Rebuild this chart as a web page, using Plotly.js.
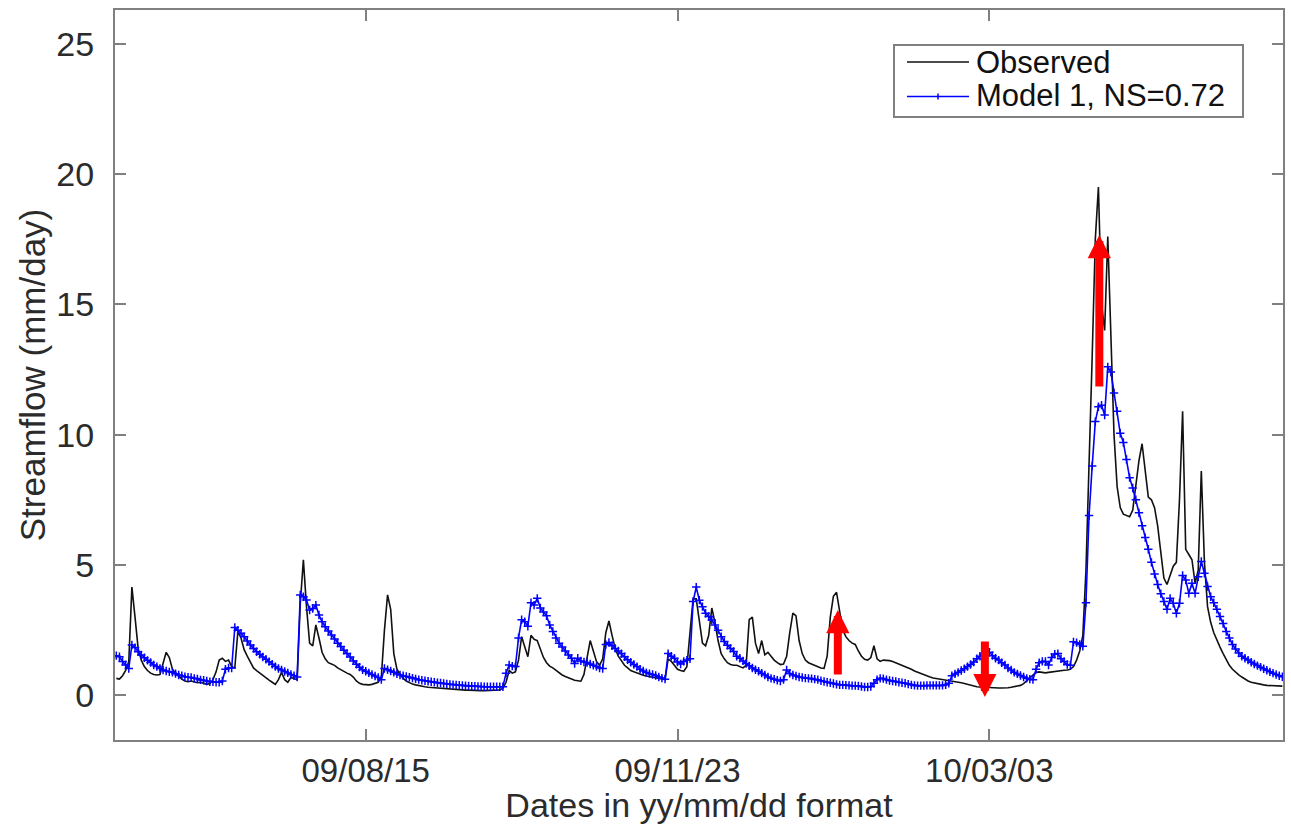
<!DOCTYPE html>
<html>
<head>
<meta charset="utf-8">
<script src="https://cdn.plot.ly/plotly-3.0.1.min.js"></script>
<style>
html,body{margin:0;padding:0;background:#ffffff;}
#chart{width:1291px;height:824px;}
</style>
</head>
<body>
<div id="chart"></div>
<script>
// ---------------- data (daily streamflow, mm/day) ----------------
const startDate = '2009-05-27';

const observed = [
0.65,0.62,0.75,0.95,1.3,4.15,3.0,1.8,1.35,1.1,
0.95,0.85,0.8,0.78,0.8,1.2,1.65,1.45,1.0,0.85,
0.72,0.62,0.55,0.52,0.55,0.5,0.48,0.5,0.45,0.42,
0.45,0.6,0.9,1.35,1.42,1.3,1.35,1.1,1.05,2.45,
2.2,1.75,1.5,1.25,1.05,0.95,0.85,0.75,0.65,0.58,
0.5,0.42,0.6,0.88,0.6,0.5,0.68,0.65,0.6,3.5,
5.2,3.4,2.0,1.9,2.7,2.2,1.65,1.4,1.25,1.2,
1.15,1.05,0.98,0.9,0.85,0.8,0.7,0.55,0.46,0.42,
0.4,0.4,0.42,0.45,0.5,0.7,2.5,3.85,3.3,1.6,
1.0,0.8,0.65,0.55,0.48,0.43,0.4,0.37,0.35,0.33,
0.31,0.3,0.28,0.27,0.26,0.25,0.24,0.23,0.22,0.22,
0.21,0.21,0.2,0.2,0.19,0.19,0.19,0.18,0.18,0.18,
0.18,0.18,0.18,0.2,0.27,0.5,0.95,0.85,0.9,1.35,
2.25,1.85,1.48,2.3,2.15,2.1,1.75,1.45,1.25,1.12,
1.05,0.95,0.85,0.78,0.72,0.67,0.62,0.58,0.56,0.54,
0.8,1.5,2.1,1.7,1.3,1.15,1.4,2.4,2.85,2.3,
1.8,1.5,1.3,1.15,1.05,0.95,0.9,0.85,0.8,0.77,
0.74,0.72,0.7,0.68,0.65,0.62,0.6,1.4,1.3,1.15,
1.0,0.95,0.92,1.1,2.5,3.7,3.7,2.8,2.0,1.9,
2.3,3.35,2.8,2.1,1.6,1.4,1.25,1.18,1.15,1.15,
1.1,1.05,1.15,2.9,3.0,2.0,1.6,2.1,1.55,1.65,
1.5,1.35,1.25,1.18,1.2,1.5,2.4,3.15,3.05,2.1,
1.6,1.35,1.25,1.2,1.15,1.1,1.05,1.03,1.5,3.0,
3.8,3.95,3.2,2.5,2.25,2.1,2.0,1.95,1.7,1.5,
1.38,1.35,1.45,1.9,1.4,1.3,1.35,1.35,1.33,1.3,
1.25,1.2,1.15,1.12,1.05,1.0,0.93,0.88,0.83,0.8,
0.75,0.7,0.66,0.64,0.63,0.62,0.6,0.58,0.56,0.54,
0.52,0.48,0.45,0.42,0.38,0.35,0.33,0.32,0.31,0.3,
0.29,0.28,0.28,0.28,0.28,0.28,0.29,0.31,0.33,0.35,
0.38,0.45,0.55,0.65,0.78,0.88,0.9,0.88,0.86,0.88,
0.9,0.92,0.93,0.95,0.96,0.97,1.0,1.1,1.35,1.7,
2.3,4.8,8.5,13.0,17.5,19.5,15.0,14.0,17.6,13.5,
10.0,8.0,7.2,6.95,6.9,6.85,7.1,8.0,9.0,9.65,
8.5,7.6,7.5,7.2,6.5,5.4,4.5,4.25,4.6,4.95,
5.1,7.5,10.9,5.6,5.4,5.2,4.3,4.8,8.6,5.1,
3.4,2.8,2.4,2.1,1.85,1.6,1.35,1.15,1.0,0.88,
0.78,0.7,0.62,0.55,0.5,0.47,0.44,0.42,0.4,0.38,
0.37,0.36,0.36,0.35,0.35
];

const model1 = [
1.52,1.48,1.3,1.16,1.03,1.93,1.83,1.67,1.55,1.44,
1.34,1.26,1.16,1.1,1.03,0.97,0.93,0.9,0.88,0.83,
0.78,0.75,0.71,0.69,0.68,0.65,0.63,0.59,0.58,0.55,
0.52,0.52,0.5,0.5,0.55,1.0,1.05,1.05,2.6,2.5,
2.38,2.25,2.08,1.93,1.8,1.67,1.57,1.47,1.38,1.29,
1.19,1.1,1.03,0.97,0.91,0.86,0.8,0.75,0.7,3.85,
3.78,3.66,3.27,3.33,3.46,3.08,2.82,2.63,2.47,2.31,
2.16,2.0,1.87,1.73,1.6,1.47,1.32,1.19,1.08,0.98,
0.92,0.86,0.8,0.74,0.68,0.6,1.03,0.98,0.93,0.88,
0.82,0.78,0.75,0.72,0.69,0.66,0.63,0.6,0.58,0.56,
0.54,0.52,0.5,0.48,0.47,0.45,0.44,0.42,0.41,0.4,
0.39,0.38,0.37,0.36,0.35,0.35,0.34,0.34,0.33,0.33,
0.33,0.33,0.33,0.33,0.33,0.85,1.16,1.12,1.1,2.2,
2.9,2.82,2.65,3.55,3.46,3.72,3.35,3.2,3.05,2.7,
2.45,2.2,2.0,1.85,1.7,1.55,1.42,1.22,1.42,1.32,
1.28,1.26,1.2,1.15,1.1,1.05,1.03,1.95,2.03,1.9,
1.8,1.7,1.6,1.48,1.36,1.27,1.18,1.1,1.0,0.93,
0.87,0.83,0.8,0.76,0.7,0.66,0.62,1.6,1.5,1.42,
1.28,1.2,1.3,1.35,1.4,3.6,4.15,3.65,3.4,3.15,
3.02,2.89,2.7,2.5,2.25,2.06,1.92,1.8,1.68,1.5,
1.42,1.32,1.22,1.13,1.05,0.98,0.92,0.85,0.78,0.7,
0.65,0.62,0.58,0.55,0.6,0.97,0.84,0.78,0.74,0.7,
0.68,0.66,0.65,0.64,0.62,0.6,0.56,0.53,0.5,0.48,
0.45,0.42,0.4,0.4,0.39,0.38,0.37,0.37,0.36,0.34,
0.32,0.32,0.34,0.46,0.6,0.65,0.64,0.6,0.57,0.55,
0.53,0.5,0.48,0.46,0.43,0.4,0.38,0.37,0.37,0.37,
0.38,0.38,0.38,0.38,0.38,0.38,0.4,0.46,0.75,0.82,
0.88,0.95,1.02,1.1,1.18,1.28,1.4,1.5,1.58,1.78,
1.65,1.52,1.42,1.35,1.25,1.16,1.05,0.97,0.88,0.82,
0.76,0.7,0.65,0.62,0.6,1.0,1.25,1.3,1.3,1.16,
1.45,1.58,1.6,1.4,1.3,1.18,1.15,2.05,2.02,1.95,
1.88,3.55,6.9,8.8,10.5,11.07,11.13,10.75,12.6,12.4,
11.6,10.9,10.05,9.7,9.05,8.35,7.95,7.5,7.0,6.5,
6.05,5.6,5.1,4.65,4.25,3.9,3.6,3.3,3.72,3.53,
3.15,3.53,4.6,4.42,3.91,4.3,3.91,4.55,5.13,4.68,
4.17,3.78,3.55,3.3,3.02,2.75,2.45,2.2,1.95,1.78,
1.62,1.5,1.42,1.35,1.27,1.2,1.14,1.08,1.02,0.96,
0.9,0.85,0.8,0.75,0.71
];

const seriesNames = ['Observed', 'Model 1, NS=0.72'];
const tickDates  = ['2009-08-15', '2009-11-23', '2010-03-03'];
const tickLabels = ['09/08/15', '09/11/23', '10/03/03'];
const yTickVals  = [0, 5, 10, 15, 20, 25];

// annotation arrows: date, tail value, head value
const arrowDates = ['2010-01-13 10:00', '2010-03-01 14:00', '2010-04-07 07:00'];
const arrowFrom  = [0.74, 2.12, 11.79];
const arrowTo    = [3.27, -0.07, 17.66];

// ---------------- build ----------------
const DAY = 86400000;
const t0 = Date.parse(startDate + 'T00:00:00Z');
function iso(ms){ return new Date(ms).toISOString().slice(0,19).replace('T',' '); }
const dates = observed.map((_, i) => iso(t0 + i * DAY));

const FONT = '"Liberation Sans", Arial, Helvetica, sans-serif';
const TXT = '#2b2b2b';
const AX = '#808080';

const traces = [
  {
    x: dates, y: observed, type: 'scatter', mode: 'lines', name: seriesNames[0],
    line: {color: '#111111', width: 1.6}, showlegend: false, hoverinfo: 'x+y'
  },
  {
    x: dates, y: model1, type: 'scatter', mode: 'lines+markers', name: seriesNames[1],
    line: {color: '#0000ff', width: 1.6},
    marker: {symbol: 'cross-thin', size: 6, color: '#0000ff', line: {color: '#0000ff', width: 1.5}},
    showlegend: false
  }
];

// plot area in pixels (for placing the hand-made legend)
const L = 115, R = 8, T = 10, B = 84, FW = 1291, FH = 824;
const PW = FW - L - R, PH = FH - T - B;
const px = x => (x - L) / PW;
const py = y => (FH - B - y) / PH;

const shapes = [
  {type: 'rect', xref: 'paper', yref: 'paper', x0: px(894), x1: px(1243), y0: py(117), y1: py(45),
   line: {color: AX, width: 2}, fillcolor: '#ffffff', layer: 'above'},
  {type: 'line', xref: 'paper', yref: 'paper', x0: px(907), x1: px(969), y0: py(62), y1: py(62),
   line: {color: '#111111', width: 1.6}, layer: 'above'},
  {type: 'line', xref: 'paper', yref: 'paper', x0: px(907), x1: px(969), y0: py(96.5), y1: py(96.5),
   line: {color: '#0000ff', width: 1.6}, layer: 'above'},
  {type: 'line', xref: 'paper', yref: 'paper', x0: px(938), x1: px(938), y0: py(99.5), y1: py(93.5),
   line: {color: '#0000ff', width: 1.5}, layer: 'above'}
];

const annotations = [
  {xref: 'paper', yref: 'paper', x: px(974), y: py(62), xanchor: 'left', yanchor: 'middle',
   text: seriesNames[0], showarrow: false, font: {family: FONT, size: 31, color: '#111111'}},
  {xref: 'paper', yref: 'paper', x: px(974), y: py(96), xanchor: 'left', yanchor: 'middle',
   text: seriesNames[1], showarrow: false, font: {family: FONT, size: 31, color: '#111111'}}
];
arrowDates.forEach((d, i) => {
  annotations.push({
    x: d, y: arrowTo[i], xref: 'x', yref: 'y',
    ax: d, ay: arrowFrom[i], axref: 'x', ayref: 'y',
    text: '', showarrow: true, arrowhead: 2, arrowsize: 0.58, arrowwidth: 8,
    arrowcolor: '#ff0000', standoff: 0, startstandoff: 0
  });
});

const layout = {
  width: FW, height: FH,
  margin: {l: L, r: R, t: T, b: B, pad: 0},
  paper_bgcolor: '#ffffff', plot_bgcolor: '#ffffff',
  font: {family: FONT, color: TXT, size: 33},
  showlegend: false,
  xaxis: {
    type: 'date',
    range: [iso(t0 - 0.42 * DAY), iso(t0 + 374.2 * DAY)],
    tickmode: 'array', tickvals: tickDates, ticktext: tickLabels,
    ticks: 'inside', ticklen: 11, tickwidth: 2, tickcolor: AX,
    showline: true, linecolor: AX, linewidth: 2, mirror: 'ticks',
    showgrid: false, zeroline: false,
    tickfont: {family: FONT, size: 33, color: TXT},
    ticklabelstandoff: 0,
    title: {text: 'Dates in yy/mm/dd format', font: {family: FONT, size: 34, color: TXT}, standoff: 10},
    automargin: false
  },
  yaxis: {
    range: [-1.715, 26.29],
    tickmode: 'array', tickvals: yTickVals,
    ticks: 'inside', ticklen: 11, tickwidth: 2, tickcolor: AX,
    showline: true, linecolor: AX, linewidth: 2, mirror: 'ticks',
    showgrid: false, zeroline: false,
    tickfont: {family: FONT, size: 34, color: TXT},
    ticklabelstandoff: 12,
    title: {text: 'Streamflow (mm/day)', font: {family: FONT, size: 35, color: TXT}, standoff: 0},
    automargin: false
  },
  shapes: shapes,
  annotations: annotations
};

Plotly.newPlot('chart', traces, layout, {displayModeBar: false, staticPlot: true});
</script>
</body>
</html>
